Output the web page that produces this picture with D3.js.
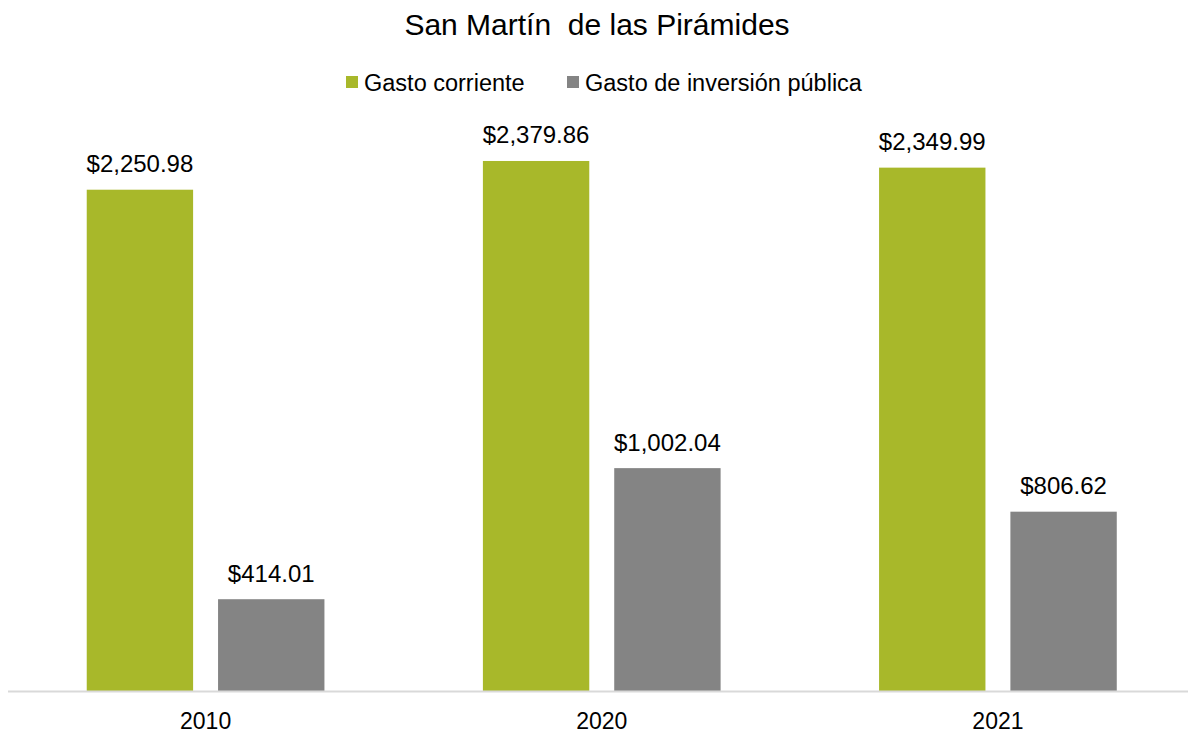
<!DOCTYPE html>
<html>
<head>
<meta charset="utf-8">
<script src="https://cdn.jsdelivr.net/npm/d3@7"></script>
<style>
  html, body { margin: 0; padding: 0; background: #fff; }
  svg { display: block; font-family: "Liberation Sans", Arial, sans-serif; }
</style>
</head>
<body>
<svg id="chart" width="1188" height="733"></svg>
<script>
const title = "San Martín  de las Pirámides";
const categories = ["2010", "2020", "2021"];
const seriesNames = ["Gasto corriente", "Gasto de inversión pública"];
const gastoCorriente = [2250.98, 2379.86, 2349.99];
const gastoInversion = [414.01, 1002.04, 806.62];
const seriesColors = ["#A8B82A", "#848484"];

const seriesValues = [gastoCorriente, gastoInversion];
const W = 1188, H = 733;
const svg = d3.select("#chart");

const x0 = d3.scaleBand().domain(categories).range([7.5, 1196]).paddingInner(0.4).paddingOuter(0.2);
const x1 = d3.scaleBand().domain(d3.range(seriesNames.length)).range([0, x0.bandwidth()]).paddingInner(0.19).paddingOuter(0);
const y = d3.scaleLinear().domain([0, 2500]).range([691.5, 134.2]);

const fmt = v => "$" + d3.format(",.2f")(v);

// Title
svg.append("text")
  .attr("x", 597).attr("y", 34.5)
  .attr("text-anchor", "middle")
  .attr("font-size", 30).attr("fill", "#000")
  .attr("xml:space", "preserve")
  .style("white-space", "pre")
  .text(title);

// Legend
const legendX = [346, 567];
seriesNames.forEach((name, i) => {
  const g = svg.append("g");
  g.append("rect").attr("x", legendX[i]).attr("y", 76).attr("width", 12).attr("height", 12).attr("fill", seriesColors[i]);
  g.append("text").attr("x", legendX[i] + 18).attr("y", 91).attr("font-size", 23.5).attr("fill", "#000").text(name);
});

// Bars
const groups = svg.append("g").selectAll("g")
  .data(categories).join("g")
  .attr("transform", d => `translate(${x0(d)},0)`);

groups.selectAll("rect")
  .data((d, ci) => seriesValues.map((vals, si) => ({ si, v: vals[ci] })))
  .join("rect")
  .attr("x", d => x1(d.si))
  .attr("width", x1.bandwidth())
  .attr("y", d => y(d.v))
  .attr("height", d => y(0) - y(d.v))
  .attr("fill", d => seriesColors[d.si]);

groups.selectAll("text.val")
  .data((d, ci) => seriesValues.map((vals, si) => ({ si, v: vals[ci] })))
  .join("text")
  .attr("class", "val")
  .attr("x", d => x1(d.si) + x1.bandwidth() / 2)
  .attr("y", d => y(d.v) - 17.5)
  .attr("text-anchor", "middle")
  .attr("font-size", 24)
  .attr("fill", "#000")
  .text(d => fmt(d.v));

// X axis
const xAxis = d3.axisBottom(x0).tickSize(0).tickPadding(0);
const ax = svg.append("g").attr("transform", `translate(0,${y(0)})`).call(xAxis);
ax.select(".domain").remove();
ax.append("line").attr("x1", 8).attr("x2", 1188).attr("y1", 0).attr("y2", 0)
  .attr("stroke", "#D9D9D9").attr("stroke-width", 2);
ax.selectAll(".tick text")
  .attr("y", 37.5).attr("dy", null)
  .attr("font-size", 23).attr("fill", "#000")
  .attr("font-family", "Liberation Sans, Arial, sans-serif");
</script>
</body>
</html>
